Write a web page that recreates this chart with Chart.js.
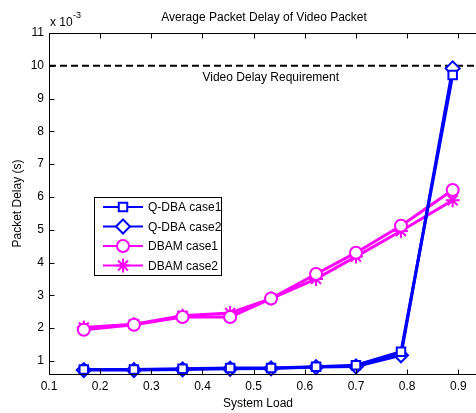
<!DOCTYPE html>
<html>
<head>
<meta charset="utf-8">
<script src="https://cdn.jsdelivr.net/npm/chart.js@4/dist/chart.umd.min.js"></script>
<style>
  html, body { margin: 0; padding: 0; background: #fff; }
  #wrap { width: 476px; height: 413px; }
</style>
</head>
<body>
<div id="wrap"><canvas id="myChart" width="476" height="413"></canvas></div>
<script>
// ---- Data ----
const loadX     = [0.168, 0.266, 0.361, 0.454, 0.534, 0.622, 0.700, 0.788, 0.889];
const qdbaCase1 = [0.74, 0.74, 0.76, 0.78, 0.78, 0.82, 0.87, 1.28, 9.72];
const qdbaCase2 = [0.72, 0.72, 0.74, 0.76, 0.77, 0.81, 0.83, 1.17, 9.92];
const dbamCase1 = [1.95, 2.10, 2.34, 2.34, 2.90, 3.65, 4.30, 5.12, 6.21];
const dbamCase2 = [2.02, 2.12, 2.38, 2.46, 2.90, 3.50, 4.18, 4.96, 5.90];
const seriesNames = ["Q-DBA case1", "Q-DBA case2", "DBAM case1", "DBAM case2"];
const xTicks = [0.1, 0.2, 0.3, 0.4, 0.5, 0.6, 0.7, 0.8, 0.9];
const yTicks = [1, 2, 3, 4, 5, 6, 7, 8, 9, 10, 11];
const requirement = 10;
const requirementLabel = "Video Delay Requirement";
const chartTitle = "Average Packet Delay of Video Packet";

const FONT = "'Liberation Sans', Arial, sans-serif";
const BLUE = "#0000ff";
const MAGENTA = "#ff00ff";

const toPoints = ys => ys.map((y, i) => ({ x: loadX[i], y }));

// ---- Frame (right side is cropped off), inward ticks, requirement line, legend ----
const matlabPlugin = {
  id: "matlab",
  beforeDatasetsDraw(chart) {
    const { ctx, chartArea: a, scales: { x, y } } = chart;
    ctx.save();
    const ry = y.getPixelForValue(requirement);
    ctx.strokeStyle = "#000";
    ctx.lineWidth = 2;
    ctx.setLineDash([7, 4]);
    ctx.beginPath();
    ctx.moveTo(a.left, ry);
    ctx.lineTo(chart.width, ry);
    ctx.stroke();
    ctx.setLineDash([]);
    ctx.font = "12px " + FONT;
    ctx.fillStyle = "#000";
    ctx.textBaseline = "middle";
    ctx.textAlign = "left";
    ctx.fillText(requirementLabel, x.getPixelForValue(0.4), y.getPixelForValue(9.64));
    ctx.restore();
  },
  afterDraw(chart) {
    const { ctx, chartArea: a, scales: { x, y } } = chart;
    const L = Math.round(a.left) + 0.5, T = Math.round(a.top) + 0.5, B = Math.round(a.bottom) + 0.5;
    ctx.save();
    ctx.strokeStyle = "#000";
    ctx.lineWidth = 1;
    ctx.beginPath();
    ctx.moveTo(chart.width, T); ctx.lineTo(L, T); ctx.lineTo(L, B); ctx.lineTo(chart.width, B);
    xTicks.forEach(v => {
      const px = Math.round(x.getPixelForValue(v)) + 0.5;
      ctx.moveTo(px, B); ctx.lineTo(px, B - 5);
      ctx.moveTo(px, T); ctx.lineTo(px, T + 5);
    });
    yTicks.forEach(v => {
      const py = Math.round(y.getPixelForValue(v)) + 0.5;
      ctx.moveTo(L, py); ctx.lineTo(L + 5, py);
    });
    ctx.stroke();

    // title and exponent label
    ctx.fillStyle = "#000";
    ctx.font = "12px " + FONT;
    ctx.textAlign = "center";
    ctx.textBaseline = "middle";
    ctx.fillText(chartTitle, 264, 18);
    ctx.textAlign = "left";
    ctx.textBaseline = "alphabetic";
    ctx.fillText("x 10", 50, 26);
    ctx.font = "9px " + FONT;
    ctx.fillText("-3", 73, 18);

    // legend
    const lx = 94, ly = 197, lw = 127, lh = 78;
    ctx.fillStyle = "#fff";
    ctx.fillRect(lx, ly, lw, lh);
    ctx.strokeStyle = "#000";
    ctx.lineWidth = 1;
    ctx.strokeRect(lx + 0.5, ly + 0.5, lw, lh);
    chart.data.datasets.forEach((ds, i) => {
      const rowY = ly + 10 + i * 19.5;
      ctx.strokeStyle = ds.borderColor;
      ctx.lineWidth = 2;
      ctx.beginPath();
      ctx.moveTo(lx + 9, rowY);
      ctx.lineTo(lx + 49, rowY);
      ctx.stroke();
      ctx.fillStyle = ds.pointBackgroundColor;
      ctx.strokeStyle = ds.pointBorderColor;
      Chart.helpers.drawPoint(ctx, {
        pointStyle: ds.pointStyle,
        radius: ds.pointRadius,
        borderWidth: ds.pointBorderWidth,
        rotation: 0
      }, lx + 29, rowY);
      ctx.fillStyle = "#000";
      ctx.font = "12px " + FONT;
      ctx.textAlign = "left";
      ctx.textBaseline = "middle";
      ctx.fillText(seriesNames[i], lx + 54, rowY + 1);
    });
    ctx.restore();
  }
};

function makeSet(label, data, color, style, radius) {
  return {
    label,
    data: toPoints(data),
    borderColor: color,
    backgroundColor: "#fff",
    borderWidth: 3,
    pointStyle: style,
    pointRadius: radius,
    pointBorderWidth: 2,
    pointBackgroundColor: style === "star" ? color : "#fff",
    pointBorderColor: color,
    tension: 0,
    clip: false
  };
}

new Chart(document.getElementById("myChart"), {
  type: "line",
  data: {
    datasets: [
      makeSet(seriesNames[0], qdbaCase1, BLUE, "rect", 6),
      makeSet(seriesNames[1], qdbaCase2, BLUE, "rectRot", 7),
      makeSet(seriesNames[2], dbamCase1, MAGENTA, "circle", 6),
      makeSet(seriesNames[3], dbamCase2, MAGENTA, "star", 7)
    ]
  },
  options: {
    responsive: false,
    animation: false,
    layout: { padding: { top: 33, right: 0, left: 0, bottom: 0 } },
    plugins: {
      legend: { display: false },
      tooltip: { enabled: false },
      title: { display: false }
    },
    scales: {
      x: {
        type: "linear",
        min: 0.1,
        max: 0.917,
        afterBuildTicks: s => { s.ticks = xTicks.map(v => ({ value: v })); },
        afterFit: s => { s.height = 39; },
        grid: { display: false, drawTicks: false },
        border: { display: false },
        ticks: {
          color: "#000",
          padding: 5,
          maxRotation: 0,
          font: { family: FONT, size: 12 },
          callback: v => v.toFixed(1)
        },
        title: {
          display: true,
          text: "System Load",
          color: "#000",
          padding: { top: 0, bottom: 2 },
          font: { family: FONT, size: 12 }
        }
      },
      y: {
        type: "linear",
        min: 0.6,
        max: 11,
        afterBuildTicks: s => { s.ticks = yTicks.map(v => ({ value: v })); },
        afterFit: s => { s.width = 49; },
        grid: { display: false, drawTicks: false },
        border: { display: false },
        ticks: {
          color: "#000",
          padding: 5,
          font: { family: FONT, size: 12 },
          callback: v => String(v)
        },
        title: {
          display: true,
          text: "Packet Delay (s)",
          color: "#000",
          padding: { top: 10, bottom: 0 },
          font: { family: FONT, size: 12 }
        }
      }
    }
  },
  plugins: [matlabPlugin]
});
</script>
</body>
</html>
